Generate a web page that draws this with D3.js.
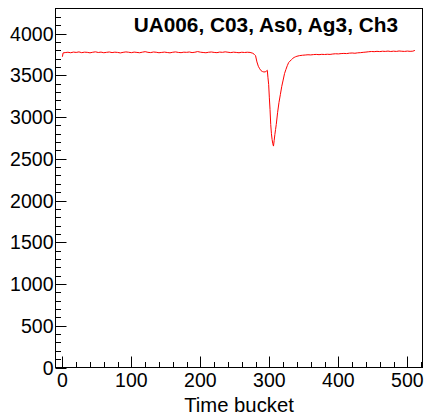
<!DOCTYPE html>
<html>
<head>
<meta charset="utf-8">
<script src="https://cdn.jsdelivr.net/npm/d3@7"></script>
<style>
  body { margin: 0; background: #fff; }
  text { font-family: "Liberation Sans", Arial, sans-serif; fill: #000; }
</style>
</head>
<body>
<script>
// pulse shape
var timeBuckets = [
  0, 1, 4, 8, 12, 16, 20, 24, 28, 32, 36,
  40, 44, 48, 52, 56, 60, 64, 68, 72, 76,
  80, 84, 88, 92, 96, 100, 104, 108, 112, 116,
  120, 124, 128, 132, 136, 140, 144, 148, 152, 156,
  160, 164, 168, 172, 176, 180, 184, 188, 192, 196,
  200, 204, 208, 212, 216, 220, 224, 228, 232, 236,
  240, 244, 248, 252, 256, 260, 264, 268, 272, 276,
  278, 280, 282, 284, 286, 288, 290, 292, 294, 296, 297,
  298, 299, 300, 301, 302, 303, 304, 305, 306, 307, 308, 309, 310,
  312, 314, 316, 318, 320, 322, 324, 326, 328, 330,
  332, 334, 336, 338, 340, 344, 348,
  352, 356, 360, 364, 368, 372, 376, 380, 384, 388,
  392, 396, 400, 404, 408, 412, 416, 420, 424, 428,
  432, 436, 440, 444, 448, 452, 456, 460, 464, 468,
  472, 476, 480, 484, 488, 492, 496, 500, 504, 508, 511
];
var adcCounts = [
  3722, 3768, 3772, 3776, 3770, 3778, 3774, 3780, 3771, 3777, 3775,
  3769, 3776, 3781, 3773, 3778, 3770, 3775, 3779, 3772, 3777,
  3774, 3768, 3775, 3780, 3776, 3771, 3778, 3774, 3770, 3777,
  3783, 3775, 3772, 3779, 3776, 3770, 3774, 3778, 3773, 3769,
  3776, 3780, 3774, 3771, 3777, 3775, 3779, 3772, 3776, 3784,
  3777, 3773, 3770, 3776, 3779, 3774, 3771, 3778, 3775, 3781,
  3776, 3772, 3777, 3774, 3770, 3776, 3773, 3776, 3774, 3764,
  3752, 3735, 3660, 3608, 3578, 3555, 3545, 3540, 3541, 3552, 3560,
  3470, 3390, 3230, 3089, 2910, 2800, 2730, 2680, 2652, 2720, 2790, 2850, 2910,
  3057, 3176, 3272, 3368, 3443, 3520, 3570, 3615, 3653, 3670,
  3687, 3703, 3714, 3722, 3728, 3736, 3740,
  3743, 3746, 3744, 3748, 3750, 3747, 3751, 3749, 3752, 3750,
  3755, 3758, 3756, 3760, 3762, 3760, 3765, 3767, 3764, 3769,
  3771, 3775, 3778, 3782, 3785, 3783, 3787, 3784, 3788, 3786,
  3790, 3785, 3789, 3786, 3791, 3788, 3786, 3790, 3787, 3789, 3798
];
var xTicks = [0, 100, 200, 300, 400, 500];
var yTicks = [0, 500, 1000, 1500, 2000, 2500, 3000, 3500, 4000];
var plotTitle = "UA006, C03, As0, Ag3, Ch3";
var xTitle = "Time bucket";

var svgWidth = 426;
var svgHeight = 418;

var frame = { left: 55.5, right: 422.5, top: 8.5, bottom: 367.5 };

var svg = d3.select("body")
  .append("svg")
  .attr("width", svgWidth)
  .attr("height", svgHeight);

var xScale = d3.scaleLinear()
  .domain([-10, 522])
  .range([frame.left, frame.right]);

var yScale = d3.scaleLinear()
  .domain([0, 4300])
  .range([frame.bottom, frame.top]);

// frame box
svg.append("rect")
  .attr("x", frame.left)
  .attr("y", frame.top)
  .attr("width", frame.right - frame.left)
  .attr("height", frame.bottom - frame.top)
  .attr("fill", "none")
  .attr("stroke", "#000")
  .attr("stroke-width", 1);

// ticks point into the plot, ROOT style
var xMinor = d3.range(0, 521, 20);
svg.append("g").selectAll("line")
  .data(xMinor)
  .enter()
  .append("line")
  .attr("x1", d => Math.round(xScale(d)) + 0.5)
  .attr("x2", d => Math.round(xScale(d)) + 0.5)
  .attr("y1", frame.bottom)
  .attr("y2", d => frame.bottom - (d % 100 == 0 ? 11 : 5.5))
  .attr("stroke", "#000");

var yMinor = d3.range(0, 4201, 100);
svg.append("g").selectAll("line")
  .data(yMinor)
  .enter()
  .append("line")
  .attr("y1", d => Math.round(yScale(d)) + 0.5)
  .attr("y2", d => Math.round(yScale(d)) + 0.5)
  .attr("x1", frame.left)
  .attr("x2", d => frame.left + (d % 500 == 0 ? 11 : 5.5))
  .attr("stroke", "#000");

svg.append("g").selectAll("text")
  .data(xTicks)
  .enter()
  .append("text")
  .attr("x", d => xScale(d))
  .attr("y", 386.7)
  .attr("text-anchor", "middle")
  .attr("font-size", "19.5px")
  .text(d => d);

svg.append("g").selectAll("text")
  .data(yTicks)
  .enter()
  .append("text")
  .attr("x", 53.5)
  .attr("y", d => yScale(d) + 7)
  .attr("text-anchor", "end")
  .attr("font-size", "19.5px")
  .text(d => d);

var line = d3.line()
  .x((d, i) => xScale(timeBuckets[i]))
  .y(d => yScale(d));

svg.append("path")
  .datum(adcCounts)
  .attr("d", line)
  .attr("fill", "none")
  .attr("stroke", "#ff0000")
  .attr("stroke-width", 1);

svg.append("text")
  .attr("x", 398)
  .attr("y", 32)
  .attr("text-anchor", "end")
  .attr("font-size", "20.8px")
  .attr("font-weight", "bold")
  .text(plotTitle);

svg.append("text")
  .attr("x", (frame.left + frame.right) / 2)
  .attr("y", 411.7)
  .attr("text-anchor", "middle")
  .attr("font-size", "20.3px")
  .text(xTitle);
</script>
</body>
</html>
